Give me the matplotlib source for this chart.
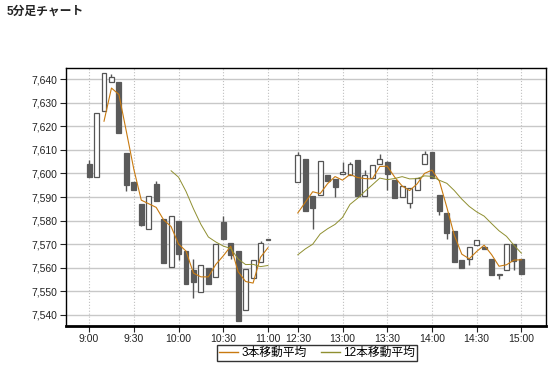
import numpy as np
import pandas as pd
import matplotlib
matplotlib.use("Agg")
import matplotlib.pyplot as plt
from matplotlib.lines import Line2D

plt.rcParams['font.family'] = ['Liberation Sans', 'Noto Sans CJK JP']

# morning session 9:00-11:00, afternoon 12:30-15:00 (5 min bars)
am_open = [7604.1, 7598.5, 7626.6, 7638.6, 7638.7, 7608.6, 7596.5, 7587.2, 7576.5, 7595.6,
           7580.7, 7560.4, 7579.9, 7566.9, 7558.9, 7549.9, 7559.7, 7556.2, 7579.4, 7570.6,
           7567.3, 7542.1, 7555.8, 7562.4, 7572.4]
am_high = [7605.5, 7625.5, 7642.4, 7642.0, 7638.7, 7608.6, 7596.5, 7587.2, 7590.6, 7596.6,
           7580.7, 7582.1, 7579.9, 7566.9, 7563.5, 7561.1, 7559.7, 7569.9, 7582.1, 7570.6,
           7567.3, 7559.6, 7563.4, 7571.3, 7572.4]
am_low = [7598.5, 7598.5, 7626.6, 7638.6, 7617.3, 7592.4, 7592.8, 7577.6, 7576.5, 7588.2,
          7562.1, 7560.4, 7563.2, 7553.2, 7547.2, 7549.9, 7553.2, 7556.2, 7572.0, 7563.8,
          7537.5, 7542.1, 7555.8, 7562.4, 7571.7]
am_close = [7598.5, 7625.5, 7642.4, 7640.7, 7617.3, 7595.2, 7592.8, 7578.0, 7590.6, 7588.2,
            7562.1, 7582.1, 7565.9, 7553.2, 7554.1, 7561.1, 7553.2, 7569.9, 7572.0, 7565.4,
            7537.5, 7559.6, 7563.4, 7570.4, 7571.7]

pm_open = [7596.3, 7606.2, 7590.6, 7591.0, 7599.4, 7597.7, 7599.6, 7599.4, 7605.8, 7590.3,
           7597.9, 7603.9, 7604.8, 7597.0, 7590.0, 7587.5, 7593.1, 7603.9, 7609.0, 7590.8,
           7583.2, 7575.6, 7563.1, 7563.8, 7569.7, 7568.6, 7563.5, 7557.5, 7558.9, 7569.9,
           7563.5]
pm_high = [7609.0, 7606.2, 7590.6, 7605.2, 7599.4, 7597.7, 7604.8, 7604.9, 7605.8, 7601.3,
           7603.5, 7608.2, 7605.2, 7597.0, 7594.8, 7593.8, 7598.0, 7609.6, 7609.0, 7590.8,
           7583.2, 7575.6, 7563.1, 7568.9, 7571.8, 7568.6, 7563.5, 7557.5, 7569.9, 7569.9,
           7563.5]
pm_low = [7596.3, 7583.9, 7576.6, 7591.0, 7596.6, 7589.9, 7599.6, 7599.4, 7590.3, 7590.3,
          7597.9, 7603.9, 7593.1, 7589.6, 7590.0, 7585.4, 7593.1, 7603.9, 7598.0, 7582.4,
          7572.0, 7562.5, 7560.0, 7561.0, 7569.7, 7568.0, 7556.9, 7555.3, 7558.9, 7559.0,
          7557.5]
pm_close = [7607.6, 7583.9, 7585.2, 7605.2, 7596.6, 7594.2, 7600.6, 7603.9, 7590.3, 7599.2,
            7603.5, 7606.1, 7599.6, 7589.6, 7594.8, 7593.8, 7598.0, 7608.2, 7598.0, 7583.9,
            7574.8, 7562.5, 7560.0, 7568.9, 7571.8, 7568.0, 7556.9, 7557.0, 7569.9, 7562.8,
            7557.5]

tick_labels = ["9:00", "9:30", "10:00", "10:30", "11:00",
               "12:30", "13:00", "13:30", "14:00", "14:30", "15:00"]

lunch_gap = 3  # empty slots between sessions

am_x = np.arange(len(am_close))
pm_x = np.arange(len(pm_close)) + len(am_close) + lunch_gap

o = np.array(am_open + pm_open)
h = np.array(am_high + pm_high)
l = np.array(am_low + pm_low)
c = np.array(am_close + pm_close)
x = np.concatenate([am_x, pm_x])

closes = pd.Series(c)
ma3 = closes.rolling(3).mean().values
ma12 = closes.rolling(12).mean().values
n_am = len(am_close)

fig = plt.figure(figsize=(5.58, 3.67), dpi=100)
ax = fig.add_axes([66 / 558, 1 - 326 / 367, 480 / 558, 258 / 367])

up = c >= o
dark = "#5a5a5a"
ax.vlines(x, l, h, color="#555555", lw=1, zorder=2)
body_bot = np.minimum(o, c)
body_h = np.maximum(np.abs(c - o), 0.5)
ax.bar(x[up], body_h[up], bottom=body_bot[up], width=0.66,
       color="white", edgecolor="#555555", lw=0.9, zorder=3)
ax.bar(x[~up], body_h[~up], bottom=body_bot[~up], width=0.66,
       color=dark, edgecolor=dark, lw=0.9, zorder=3)

ma3_col = "#c87a10"
ma12_col = "#8f8f30"
for seg in (slice(0, n_am), slice(n_am, None)):
    ax.plot(x[seg], ma3[seg], color=ma3_col, lw=0.8, zorder=4)
    ax.plot(x[seg], ma12[seg], color=ma12_col, lw=0.7, zorder=4)

tick_pos = list(am_x[::6]) + list(pm_x[::6])
ax.set_xticks(tick_pos)
ax.set_xticklabels(tick_labels)
ax.set_xlim(-3.1, 61.3)
ax.set_ylim(7535.3, 7644.7)
ax.set_yticks(np.arange(7540, 7641, 10))
ax.yaxis.set_major_formatter(matplotlib.ticker.FuncFormatter(lambda v, p: f"{v:,.0f}"))
ax.tick_params(labelsize=7.5, length=4, width=0.8, colors="#222222", pad=2)

ax.grid(axis="y", color="#c8c8c8", lw=1, zorder=0)
ax.grid(axis="x", color="#c0c0c0", lw=0.8, ls=":", zorder=0)
ax.set_axisbelow(True)
for s in ax.spines.values():
    s.set_color("black")
    s.set_linewidth(1)
ax.spines["bottom"].set_linewidth(2)

fig.text(7 / 558, 1 - 12 / 367, "5分足チャート", fontsize=8.5, fontweight="bold",
         va="center", ha="left", color="#222222")

handles = [Line2D([], [], color=ma3_col, lw=1), Line2D([], [], color=ma12_col, lw=1)]
leg = fig.legend(handles, ["3本移動平均", "12本移動平均"], ncol=2, loc="upper center",
                 bbox_to_anchor=(317 / 558, 1 - 345 / 367), fontsize=8.5, frameon=True,
                 fancybox=False, edgecolor="black", handlelength=1.6, handletextpad=0.3,
                 columnspacing=1.2, borderpad=0.15, borderaxespad=0)
leg.get_frame().set_linewidth(1)

fig.savefig("out.png", dpi=100)
